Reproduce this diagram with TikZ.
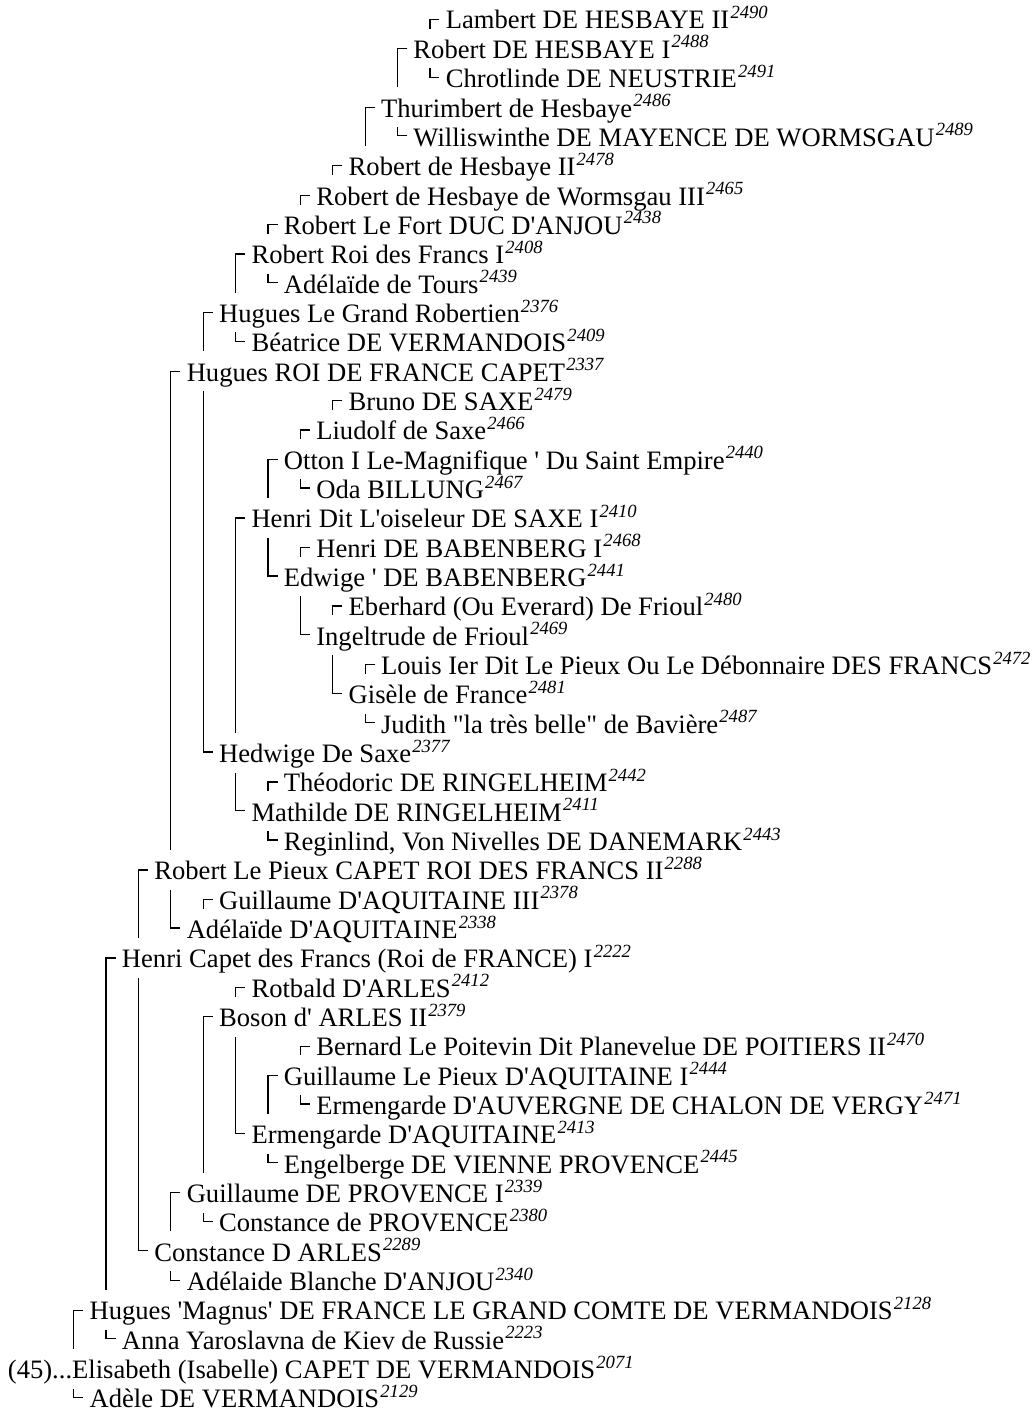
\documentclass[tikz,border=0pt]{standalone}
\usepackage{fontspec}
\setmainfont{Liberation Serif}
\newcommand{\q}{\textquotesingle}
\newcommand{\qq}{\textquotedbl}
\newcommand{\sosa}[1]{\kern0.6pt\raisebox{5.2pt}{\fontsize{9.3}{9}\selectfont\itshape #1}}
\tikzset{
  person/.style={anchor=base west,inner sep=0pt,font=\fontsize{13.3}{14}\selectfont},
  bracket/.style={line width=0.6pt}
}

\begin{document}
\begin{tikzpicture}[x=0.5pt,y=-0.5pt]
\useasboundingbox (0,0) rectangle (1036,1412);

% ---------- ancestors: name/level/row/text/sosa ----------
\foreach \n/\l/\r/\t/\s in {
  lambert/12/1/{Lambert DE HESBAYE II}/2490,
  hesbayeI/11/2/{Robert DE HESBAYE I}/2488,
  chrotlinde/12/3/{Chrotlinde DE NEUSTRIE}/2491,
  thurimbert/10/4/{Thurimbert de Hesbaye}/2486,
  williswinthe/11/5/{Williswinthe DE MAYENCE DE WORMSGAU}/2489,
  hesbayeII/9/6/{Robert de Hesbaye II}/2478,
  wormsgau/8/7/{Robert de Hesbaye de Wormsgau III}/2465,
  robertfort/7/8/{Robert Le Fort DUC D\q ANJOU}/2438,
  robertroi/6/9/{Robert Roi des Francs I}/2408,
  adelaidetours/7/10/{Adélaïde de Tours}/2439,
  huguesgrand/5/11/{Hugues Le Grand Robertien}/2376,
  beatrice/6/12/{Béatrice DE VERMANDOIS}/2409,
  huguescapet/4/13/{Hugues ROI DE FRANCE CAPET}/2337,
  bruno/9/14/{Bruno DE SAXE}/2479,
  liudolf/8/15/{Liudolf de Saxe}/2466,
  otton/7/16/{Otton I Le-Magnifique \q\ Du Saint Empire}/2440,
  oda/8/17/{Oda BILLUNG}/2467,
  oiseleur/6/18/{Henri Dit L\q oiseleur DE SAXE I}/2410,
  babenberg/8/19/{Henri DE BABENBERG I}/2468,
  edwige/7/20/{Edwige \q\ DE BABENBERG}/2441,
  eberhard/9/21/{Eberhard (Ou Everard) De Frioul}/2480,
  ingeltrude/8/22/{Ingeltrude de Frioul}/2469,
  louis/10/23/{Louis Ier Dit Le Pieux Ou Le Débonnaire DES FRANCS}/2472,
  gisele/9/24/{Gisèle de France}/2481,
  judith/10/25/{Judith \qq la très belle\qq\ de Bavière}/2487,
  hedwige/5/26/{Hedwige De Saxe}/2377,
  theodoric/7/27/{Théodoric DE RINGELHEIM}/2442,
  mathilde/6/28/{Mathilde DE RINGELHEIM}/2411,
  reginlind/7/29/{Reginlind, Von Nivelles DE DANEMARK}/2443,
  robertpieux/3/30/{Robert Le Pieux CAPET ROI DES FRANCS II}/2288,
  guillaumeaq/5/31/{Guillaume D\q AQUITAINE III}/2378,
  adelaideaq/4/32/{Adélaïde D\q AQUITAINE}/2338,
  henri/2/33/{Henri Capet des Francs (Roi de FRANCE) I}/2222,
  rotbald/6/34/{Rotbald D\q ARLES}/2412,
  boson/5/35/{Boson d\q\ ARLES II}/2379,
  bernard/8/36/{Bernard Le Poitevin Dit Planevelue DE POITIERS II}/2470,
  guillaumepieux/7/37/{Guillaume Le Pieux D\q AQUITAINE I}/2444,
  ermengardeauv/8/38/{Ermengarde D\q AUVERGNE DE CHALON DE VERGY}/2471,
  ermengardeaq/6/39/{Ermengarde D\q AQUITAINE}/2413,
  engelberge/7/40/{Engelberge DE VIENNE PROVENCE}/2445,
  guillaumeprov/4/41/{Guillaume DE PROVENCE I}/2339,
  constanceprov/5/42/{Constance de PROVENCE}/2380,
  constancearles/3/43/{Constance D ARLES}/2289,
  adelaideanjou/4/44/{Adélaide Blanche D\q ANJOU}/2340,
  magnus/1/45/{Hugues \q Magnus\q\ DE FRANCE LE GRAND COMTE DE VERMANDOIS}/2128,
  anna/2/46/{Anna Yaroslavna de Kiev de Russie}/2223,
  adele/1/48/{Adèle DE VERMANDOIS}/2129}
  \node[person] (\n) at ({56.8+32.39*\l},{29+29.34*(\r-1)}) {\t\sosa{\s}};

% ---------- the root ----------
\node[person] (elisabeth) at (7.5,1378.6)
  {(45)...Elisabeth (Isabelle) CAPET DE VERMANDOIS\sosa{2071}};

% ---------- fathers: corner down to the row above the child ----------
\foreach \p/\c in {magnus/elisabeth,henri/magnus,robertpieux/henri,
    huguescapet/robertpieux,huguesgrand/huguescapet,robertroi/huguesgrand,
    robertfort/robertroi,wormsgau/robertfort,hesbayeII/wormsgau,
    thurimbert/hesbayeII,hesbayeI/thurimbert,lambert/hesbayeI,
    oiseleur/hedwige,otton/oiseleur,liudolf/otton,bruno/liudolf,
    babenberg/edwige,eberhard/ingeltrude,louis/gisele,theodoric/mathilde,
    guillaumeaq/adelaideaq,guillaumeprov/constancearles,boson/guillaumeprov,
    rotbald/boson,guillaumepieux/ermengardeaq,bernard/guillaumepieux}{
  \path ([shift={(-15.5,-9.8)}]\p.base west) coordinate (a)
        ([yshift=14.9pt]\c.base) coordinate (b);
  \draw[bracket] ([xshift=4.75pt]a) -- (a) -- (a |- b);
}

% ---------- mothers: corner up to just below the child ----------
\foreach \p/\c in {adele/elisabeth,anna/magnus,constancearles/henri,
    adelaideaq/robertpieux,hedwige/huguescapet,beatrice/huguesgrand,
    adelaidetours/robertroi,williswinthe/thurimbert,chrotlinde/hesbayeI,
    oda/otton,edwige/oiseleur,ingeltrude/edwige,gisele/ingeltrude,
    judith/gisele,mathilde/hedwige,reginlind/mathilde,
    adelaideanjou/constancearles,constanceprov/guillaumeprov,
    ermengardeaq/boson,engelberge/ermengardeaq,ermengardeauv/guillaumepieux}{
  \path ([shift={(-15.5,-10.5)}]\p.base west) coordinate (a)
        ([yshift=-5pt]\c.base) coordinate (b);
  \draw[bracket] (a |- b) -- (a) -- ([xshift=4.75pt]a);
}
\end{tikzpicture}
\end{document}
